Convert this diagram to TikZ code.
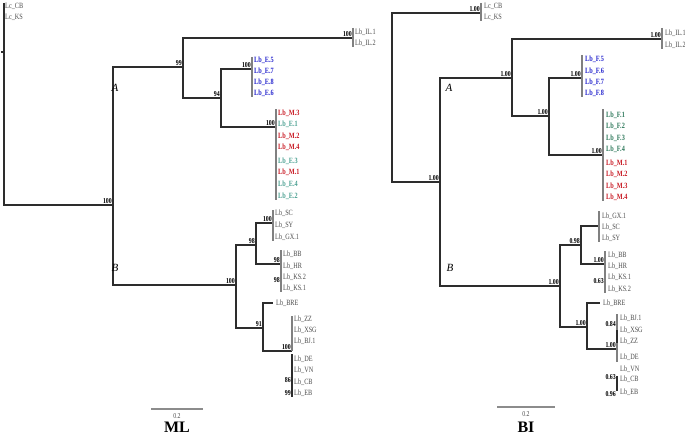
\documentclass[tikz,border=0pt]{standalone}
\usepackage{fontspec}
\setmainfont{Liberation Serif}
\newfontfamily\tipfont[FakeStretch=0.78]{Liberation Serif}
\usetikzlibrary{calc}
\definecolor{branch}{RGB}{45,45,45}
\definecolor{tipgray}{RGB}{75,75,75}
\definecolor{fblue}{RGB}{35,35,205}
\definecolor{mred}{RGB}{200,25,35}
\definecolor{mlgreen}{RGB}{75,160,145}
\definecolor{bigreen}{RGB}{45,120,90}
\newcommand{\lb}[1]{Lb\_#1}

\begin{document}
\begin{tikzpicture}[
  x=1pt, y=-1pt,
  br/.style={draw=branch, line width=1.1pt},
  clade/.style={draw=black!50, line width=1.1pt},
  tiplab/.style={anchor=west, inner sep=0pt, text=tipgray, font=\tipfont\fontsize{8}{8}\selectfont},
  coltip/.style={tiplab, font=\tipfont\bfseries\fontsize{8}{8}\selectfont},
  support/.style={anchor=south east, inner sep=0pt, xshift=-1pt, yshift=1pt, font=\tipfont\bfseries\fontsize{7.5}{7.5}\selectfont},
  group/.style={inner sep=0pt, font=\itshape\fontsize{11}{11}\selectfont},
  title/.style={anchor=base, inner sep=0pt, font=\bfseries\fontsize{16}{16}\selectfont},
  scalebar/.style={draw=black!45, line width=1.8pt}
]
\useasboundingbox (0,0) rectangle (685,436);

% ---------- ML tree ----------
\coordinate (mlOG) at (4,3);
\coordinate (mlRoot) at (4,52);
\coordinate (mlN1) at (113,205);
\coordinate (mlA) at (183,67);
\coordinate (mlB) at (236,285);
\coordinate (mlIL) at (353,38);
\coordinate (mlN94) at (221,98);
\coordinate (mlE) at (252,69);
\coordinate (mlMF) at (276,127);
\coordinate (mlN98) at (256,245);
\coordinate (mlN91) at (263,328);
\coordinate (mlSC) at (273,223);
\coordinate (mlBB) at (281,264);
\coordinate (mlKS) at (281,284);
\coordinate (mlBRE) at (273,303);
\coordinate (mlZZ) at (292,351);
\coordinate (mlCB) at (292,384);
\coordinate (mlEB) at (292,397);

\draw[br] (mlOG) |- (mlN1);
\draw[br] (mlRoot) -- ++(-3,0);
\foreach \p/\c in {mlN1/mlA, mlN1/mlB, mlA/mlIL, mlA/mlN94, mlN94/mlE, mlN94/mlMF,
                   mlB/mlN98, mlB/mlN91, mlN98/mlSC, mlN98/mlBB, mlN91/mlBRE, mlN91/mlZZ}
  \draw[br] (\p) |- (\c);

% clusters
\draw[clade] (mlIL) ++(0,-10) -- ++(0,19);
\draw[clade] (mlE) ++(0,-12) -- ++(0,40);
\draw[clade] (mlMF) ++(0,-18) -- ++(0,91);
\draw[clade] (mlSC) ++(0,-13) -- ++(0,31);
\draw[clade] (mlBB) ++(0,-14) -- ++(0,42);
\draw[clade] (mlZZ) ++(0,-35) -- ++(0,35);
\draw[br, line width=1.8pt] (mlZZ) ++(0,3) -- (mlEB);

% support values
\foreach \n/\v in {mlN1/100, mlA/99, mlB/100, mlIL/100, mlN94/94, mlE/100, mlMF/100,
                   mlN98/98, mlN91/91, mlSC/100, mlBB/98, mlKS/98, mlZZ/100, mlCB/86, mlEB/99}
  \node[support] (\n-s) at (\n) {\v};

% tips
\foreach \t/\y [count=\i] in {Lc\_CB/6, Lc\_KS/17}
  \node[tiplab] (mlOG-\i) at (5,\y) {\t};
\foreach \t/\y [count=\i] in {IL.1/32, IL.2/43}
  \node[tiplab] (mlIL-\i) at (355,\y) {\lb{\t}};
\foreach \t/\y [count=\i] in {E.5/60, E.7/71, E.8/82, E.6/93}
  \node[coltip, text=fblue] (mlE-\i) at (254,\y) {\lb{\t}};
\foreach \t/\y/\c [count=\i] in {M.3/113/mred, E.1/124/mlgreen, M.2/136/mred, M.4/147/mred,
                                 E.3/161/mlgreen, M.1/172/mred, E.4/184/mlgreen, E.2/196/mlgreen}
  \node[coltip, text=\c] (mlMF-\i) at (278,\y) {\lb{\t}};
\foreach \t/\y [count=\i] in {SC/213, SY/225, GX.1/237}
  \node[tiplab] (mlSC-\i) at (275,\y) {\lb{\t}};
\foreach \t/\y [count=\i] in {BB/254, HR/266, KS.2/277, KS.1/288}
  \node[tiplab] (mlBB-\i) at (283,\y) {\lb{\t}};
\node[tiplab] (mlBRE-1) at (276,303) {\lb{BRE}};
\foreach \t/\y [count=\i] in {ZZ/319, XSG/330, BJ.1/341, DE/359, VN/370, CB/382, EB/393}
  \node[tiplab] (mlZZ-\i) at (294,\y) {\lb{\t}};

\node[group] (mlAlab) at (115,88) {A};
\node[group] (mlBlab) at (115,268) {B};

\coordinate (mlBarL) at (151,409);
\coordinate (mlBarR) at (203,409);
\draw[scalebar] (mlBarL) -- (mlBarR);
\node[inner sep=0pt, font=\tipfont\fontsize{7.5}{7.5}\selectfont, text=tipgray] (mlScale) at (177,416) {0.2};
\node[title] (mlTitle) at (177,432) {ML};

% ---------- BI tree ----------
\coordinate (biOG) at (481,13);
\coordinate (biRoot) at (392,182);
\coordinate (biN1) at (440,182);
\coordinate (biA) at (512,78);
\coordinate (biB) at (560,286);
\coordinate (biIL) at (662,39);
\coordinate (biN2) at (549,116);
\coordinate (biF) at (582,78);
\coordinate (biFM) at (603,155);
\coordinate (biN3) at (581,245);
\coordinate (biN4) at (587,327);
\coordinate (biGX) at (599,226);
\coordinate (biBB) at (605,264);
\coordinate (biKS) at (605,285);
\coordinate (biBRE) at (600,303);
\coordinate (biZZ) at (617,349);
\coordinate (biBJ) at (617,328);
\coordinate (biCB) at (617,381);
\coordinate (biEB) at (617,398);

\draw[br] (biOG) -| (biRoot) -- (biN1);
\foreach \p/\c in {biN1/biA, biN1/biB, biA/biIL, biA/biN2, biN2/biF, biN2/biFM,
                   biB/biN3, biB/biN4, biN3/biGX, biN3/biBB, biN4/biBRE, biN4/biZZ}
  \draw[br] (\p) |- (\c);

% clusters
\draw[clade] (biOG) ++(0,-10) -- ++(0,18);
\draw[clade] (biIL) ++(0,-11) -- ++(0,21);
\draw[clade] (biF) ++(0,-23) -- ++(0,42);
\draw[clade] (biFM) ++(0,-46) -- ++(0,92);
\draw[clade] (biGX) ++(0,-15) -- ++(0,31);
\draw[clade] (biBB) ++(0,-13) -- ++(0,42);
\draw[clade] (biZZ) ++(0,-35) -- ++(0,48);
\draw[br, line width=1.8pt] (617,330) -- (617,343);
\draw[br, line width=1.8pt] (617,376) -- (617,391);

% support values
\foreach \n/\v in {biOG/1.00, biN1/1.00, biA/1.00, biIL/1.00, biN2/1.00, biF/1.00, biFM/1.00,
                   biB/1.00, biN3/0.98, biBB/1.00, biKS/0.63, biN4/1.00, biZZ/1.00,
                   biBJ/0.84, biCB/0.63, biEB/0.96}
  \node[support] (\n-s) at (\n) {\v};

% tips
\foreach \t/\y [count=\i] in {Lc\_CB/6, Lc\_KS/17}
  \node[tiplab] (biOG-\i) at (484,\y) {\t};
\foreach \t/\y [count=\i] in {IL.1/33, IL.2/45}
  \node[tiplab] (biIL-\i) at (665,\y) {\lb{\t}};
\foreach \t/\y [count=\i] in {F.5/59, F.6/71, F.7/82, F.8/93}
  \node[coltip, text=fblue] (biF-\i) at (585,\y) {\lb{\t}};
\foreach \t/\y/\c [count=\i] in {F.1/115/bigreen, F.2/126/bigreen, F.3/138/bigreen, F.4/149/bigreen,
                                 M.1/163/mred, M.2/174/mred, M.3/186/mred, M.4/197/mred}
  \node[coltip, text=\c] (biFM-\i) at (606,\y) {\lb{\t}};
\foreach \t/\y [count=\i] in {GX.1/216, SC/227, SY/238}
  \node[tiplab] (biGX-\i) at (602,\y) {\lb{\t}};
\foreach \t/\y [count=\i] in {BB/255, HR/266, KS.1/277, KS.2/289}
  \node[tiplab] (biBB-\i) at (608,\y) {\lb{\t}};
\node[tiplab] (biBRE-1) at (603,303) {\lb{BRE}};
\foreach \t/\y [count=\i] in {BJ.1/318, XSG/330, ZZ/341, DE/357, VN/369, CB/379, EB/392}
  \node[tiplab] (biZZ-\i) at (620,\y) {\lb{\t}};

\node[group] (biAlab) at (449,88) {A};
\node[group] (biBlab) at (450,268) {B};

\coordinate (biBarL) at (497,407);
\coordinate (biBarR) at (555,407);
\draw[scalebar] (biBarL) -- (biBarR);
\node[inner sep=0pt, font=\tipfont\fontsize{7.5}{7.5}\selectfont, text=tipgray] (biScale) at (526,414) {0.2};
\node[title] (biTitle) at (526,432) {BI};
\end{tikzpicture}
\end{document}
